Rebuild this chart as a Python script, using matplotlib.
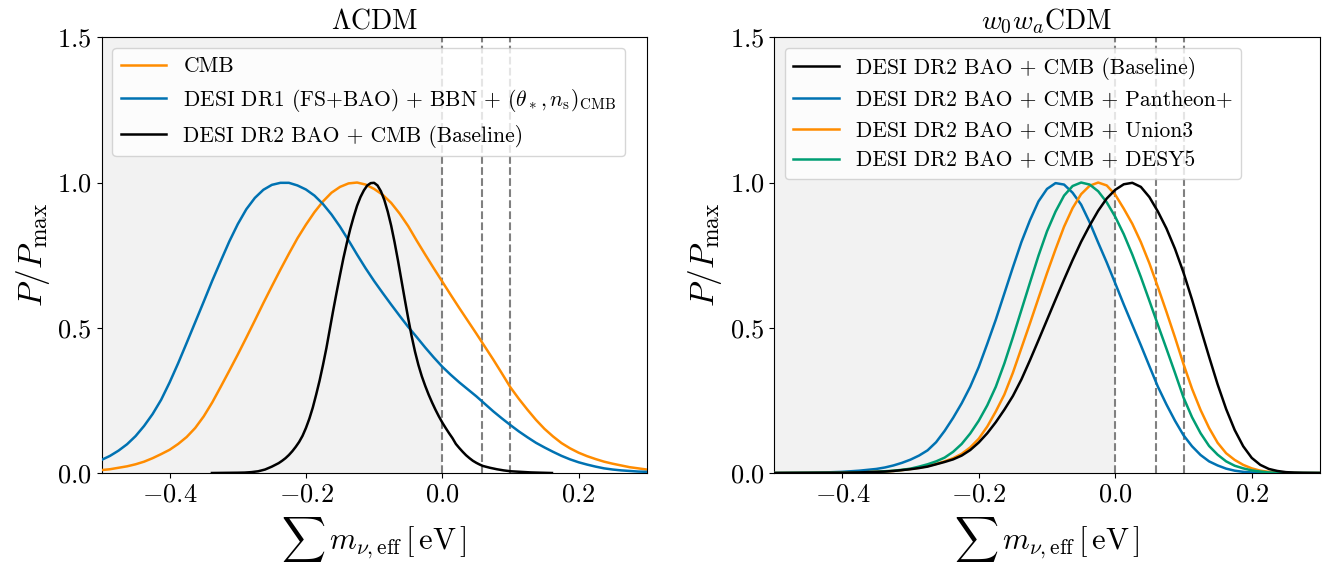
import matplotlib
matplotlib.use("Agg")
import matplotlib.pyplot as plt

plt.rcParams['font.family'] = 'serif'
plt.rcParams['font.serif'] = ['cmr10']
plt.rcParams['mathtext.fontset'] = 'cm'
plt.rcParams['axes.formatter.use_mathtext'] = True
plt.rcParams['axes.unicode_minus'] = True

# ---------------- data: Lambda CDM panel ----------------
lcdm_cmb_x = [-0.5, -0.4875, -0.475, -0.4625, -0.45, -0.4375, -0.425, -0.4125, -0.4, -0.3875,
              -0.375, -0.3625, -0.35, -0.3375, -0.325, -0.3125, -0.3, -0.2875, -0.275, -0.2625,
              -0.25, -0.2375, -0.225, -0.2125, -0.2, -0.1875, -0.175, -0.1625, -0.15, -0.1375,
              -0.125, -0.1125, -0.1, -0.0875, -0.075, -0.0625, -0.05, -0.0375, -0.025, -0.0125,
              0.0, 0.0125, 0.025, 0.0375, 0.05, 0.0625, 0.075, 0.0875, 0.1, 0.1125,
              0.125, 0.1375, 0.15, 0.1625, 0.175, 0.1875, 0.2, 0.2125, 0.225, 0.2375,
              0.25, 0.2625, 0.275, 0.2875, 0.3]
lcdm_cmb_y = [0.010, 0.013, 0.018, 0.023, 0.030, 0.039, 0.051, 0.065, 0.080, 0.100,
              0.124, 0.155, 0.195, 0.243, 0.297, 0.352, 0.408, 0.466, 0.525, 0.585,
              0.643, 0.700, 0.755, 0.808, 0.855, 0.898, 0.935, 0.965, 0.985, 0.997,
              1.000, 0.993, 0.978, 0.958, 0.930, 0.893, 0.850, 0.800, 0.752, 0.705,
              0.659, 0.613, 0.568, 0.524, 0.480, 0.435, 0.390, 0.343, 0.295, 0.255,
              0.218, 0.183, 0.152, 0.126, 0.103, 0.085, 0.070, 0.058, 0.048, 0.039,
              0.032, 0.026, 0.020, 0.016, 0.012]

lcdm_dr1_x = lcdm_cmb_x
lcdm_dr1_y = [0.045, 0.059, 0.077, 0.099, 0.127, 0.162, 0.203, 0.252, 0.312, 0.378,
              0.448, 0.519, 0.590, 0.662, 0.730, 0.797, 0.857, 0.908, 0.947, 0.975,
              0.992, 0.999, 0.999, 0.990, 0.976, 0.955, 0.926, 0.890, 0.848, 0.801,
              0.752, 0.705, 0.661, 0.620, 0.580, 0.541, 0.503, 0.468, 0.432, 0.398,
              0.366, 0.338, 0.312, 0.288, 0.264, 0.238, 0.212, 0.188, 0.165, 0.143,
              0.123, 0.104, 0.088, 0.073, 0.059, 0.047, 0.037, 0.029, 0.022, 0.016,
              0.012, 0.009, 0.007, 0.005, 0.004]

lcdm_dr2_x = [-0.338, -0.32, -0.30, -0.29, -0.28, -0.27, -0.26, -0.255, -0.25, -0.245,
              -0.24, -0.235, -0.23, -0.225, -0.22, -0.215, -0.21, -0.205, -0.20, -0.195,
              -0.19, -0.185, -0.18, -0.175, -0.17, -0.165, -0.16, -0.155, -0.15, -0.145,
              -0.14, -0.135, -0.13, -0.125, -0.12, -0.115, -0.11, -0.105, -0.10, -0.095,
              -0.09, -0.085, -0.08, -0.075, -0.07, -0.065, -0.06, -0.055, -0.05, -0.045,
              -0.04, -0.035, -0.03, -0.025, -0.02, -0.015, -0.01, -0.005, 0.0, 0.005,
              0.01, 0.015, 0.02, 0.025, 0.03, 0.035, 0.04, 0.045, 0.05, 0.055,
              0.06, 0.07, 0.08, 0.09, 0.10, 0.115, 0.13, 0.145, 0.161]
lcdm_dr2_y = [0.0, 0.0005, 0.001, 0.0015, 0.003, 0.006, 0.012, 0.017, 0.022, 0.028,
              0.034, 0.042, 0.051, 0.062, 0.075, 0.090, 0.107, 0.128, 0.155, 0.187,
              0.225, 0.270, 0.318, 0.372, 0.430, 0.495, 0.560, 0.622, 0.682, 0.740,
              0.792, 0.840, 0.882, 0.920, 0.950, 0.973, 0.990, 0.998, 0.999, 0.990,
              0.970, 0.940, 0.900, 0.852, 0.795, 0.732, 0.665, 0.598, 0.533, 0.472,
              0.418, 0.372, 0.333, 0.300, 0.270, 0.243, 0.218, 0.195, 0.174, 0.155,
              0.137, 0.120, 0.100, 0.086, 0.073, 0.061, 0.051, 0.042, 0.035, 0.029,
              0.024, 0.018, 0.013, 0.009, 0.006, 0.004, 0.002, 0.001, 0.0]

# ---------------- data: w0wa CDM panel ----------------
w_x = [-0.5, -0.45, -0.425, -0.4, -0.375, -0.35, -0.3375, -0.325, -0.3125, -0.3,
       -0.2875, -0.275, -0.2625, -0.25, -0.2375, -0.225, -0.2125, -0.2, -0.1875, -0.175,
       -0.1625, -0.15, -0.1375, -0.125, -0.1125, -0.1, -0.0875, -0.075, -0.0625, -0.05,
       -0.0375, -0.025, -0.0125, 0.0, 0.0125, 0.025, 0.0375, 0.05, 0.0625, 0.075,
       0.0875, 0.1, 0.1125, 0.125, 0.1375, 0.15, 0.1625, 0.175, 0.1875, 0.2,
       0.2125, 0.225, 0.2375, 0.25, 0.2625, 0.275, 0.3]

w_base_y = [0.0, 0.0005, 0.0008, 0.001, 0.002, 0.004, 0.005, 0.007, 0.010, 0.013,
            0.017, 0.022, 0.030, 0.038, 0.047, 0.060, 0.079, 0.105, 0.137, 0.175,
            0.218, 0.265, 0.322, 0.388, 0.457, 0.527, 0.597, 0.666, 0.733, 0.796,
            0.852, 0.903, 0.945, 0.975, 0.994, 0.999, 0.985, 0.950, 0.900, 0.842,
            0.772, 0.690, 0.597, 0.498, 0.400, 0.305, 0.220, 0.148, 0.092, 0.052,
            0.028, 0.014, 0.007, 0.003, 0.0015, 0.0007, 0.0]

w_pan_y = [0.0, 0.001, 0.002, 0.004, 0.008, 0.014, 0.019, 0.026, 0.035, 0.046,
           0.060, 0.078, 0.106, 0.145, 0.190, 0.240, 0.297, 0.365, 0.445, 0.528,
           0.618, 0.708, 0.795, 0.870, 0.935, 0.978, 0.998, 0.993, 0.965, 0.924,
           0.863, 0.793, 0.725, 0.653, 0.580, 0.510, 0.440, 0.368, 0.297, 0.236,
           0.180, 0.130, 0.092, 0.062, 0.040, 0.026, 0.015, 0.008, 0.004, 0.002,
           0.001, 0.0005, 0.0002, 0.0, 0.0, 0.0, 0.0]

w_uni_y = [0.0, 0.0005, 0.0008, 0.001, 0.002, 0.004, 0.005, 0.007, 0.010, 0.014,
           0.018, 0.024, 0.031, 0.040, 0.051, 0.066, 0.088, 0.118, 0.160, 0.212,
           0.270, 0.345, 0.430, 0.515, 0.602, 0.688, 0.770, 0.848, 0.912, 0.960,
           0.989, 1.000, 0.990, 0.958, 0.910, 0.858, 0.795, 0.722, 0.640, 0.555,
           0.467, 0.375, 0.290, 0.217, 0.155, 0.104, 0.068, 0.045, 0.028, 0.016,
           0.008, 0.004, 0.0015, 0.0005, 0.0002, 0.0, 0.0]

w_des_y = [0.0, 0.0005, 0.0008, 0.001, 0.002, 0.004, 0.006, 0.008, 0.011, 0.015,
           0.022, 0.030, 0.040, 0.053, 0.073, 0.100, 0.136, 0.180, 0.233, 0.297,
           0.377, 0.467, 0.561, 0.655, 0.748, 0.832, 0.900, 0.955, 0.988, 1.000,
           0.993, 0.970, 0.932, 0.882, 0.822, 0.752, 0.675, 0.593, 0.510, 0.428,
           0.345, 0.260, 0.192, 0.137, 0.093, 0.063, 0.040, 0.025, 0.016, 0.009,
           0.005, 0.002, 0.001, 0.0005, 0.0, 0.0, 0.0]

vlines = [0.0, 0.059, 0.1]
xticks = [-0.4, -0.2, 0.0, 0.2]
yticks = [0.0, 0.5, 1.0, 1.5]

C_ORANGE = '#ff8c00'
C_BLUE = '#0072b2'
C_GREEN = '#009e73'
C_BLACK = 'black'

fig = plt.figure(figsize=(13.37, 5.66), dpi=100)
W, H = 1337.0, 566.0
ax1 = fig.add_axes([101.5 / W, 1 - 473 / H, 545.2 / W, 435.7 / H])
ax2 = fig.add_axes([774 / W, 1 - 473 / H, 546 / W, 435.7 / H])

LW = 1.8


def style(ax, title):
    ax.axvspan(-0.5, 0.0, color='gray', alpha=0.1, lw=0, zorder=0)
    for v in vlines:
        ax.axvline(v, color='gray', ls='--', lw=1.5, zorder=1)
    ax.set_xlim(-0.5, 0.3)
    ax.set_ylim(0, 1.5)
    ax.set_xticks(xticks)
    ax.set_yticks(yticks)
    ax.tick_params(labelsize=19)
    ax.set_xlabel(r'$\sum\, m_{\nu,\mathrm{eff}}\,[\,\mathrm{eV}\,]$', fontsize=22, labelpad=6)
    ax.set_ylabel(r'$P/P_\mathrm{max}$', fontsize=24)
    ax.set_title(title, fontsize=20)


style(ax1, r'$\Lambda$CDM')
ax1.plot(lcdm_cmb_x, lcdm_cmb_y, color=C_ORANGE, lw=LW, label='CMB', zorder=3)
ax1.plot(lcdm_dr1_x, lcdm_dr1_y, color=C_BLUE, lw=LW,
         label=r'DESI DR1 (FS+BAO) + BBN + $(\theta_*, n_\mathrm{s})_\mathrm{CMB}$', zorder=3)
ax1.plot(lcdm_dr2_x, lcdm_dr2_y, color=C_BLACK, lw=LW,
         label='DESI DR2 BAO + CMB (Baseline)', zorder=4)
ax1.legend(loc='upper left', fontsize=15.5, handlelength=2.1)

style(ax2, r'$w_0w_a$CDM')
ax2.plot(w_x, w_base_y, color=C_BLACK, lw=LW, label='DESI DR2 BAO + CMB (Baseline)', zorder=4)
ax2.plot(w_x, w_pan_y, color=C_BLUE, lw=LW, label='DESI DR2 BAO + CMB + Pantheon+', zorder=3)
ax2.plot(w_x, w_uni_y, color=C_ORANGE, lw=LW, label='DESI DR2 BAO + CMB + Union3', zorder=3)
ax2.plot(w_x, w_des_y, color=C_GREEN, lw=LW, label='DESI DR2 BAO + CMB + DESY5', zorder=3)
ax2.legend(loc='upper left', fontsize=15.5, handlelength=2.1)

fig.savefig('out.png', dpi=100)
